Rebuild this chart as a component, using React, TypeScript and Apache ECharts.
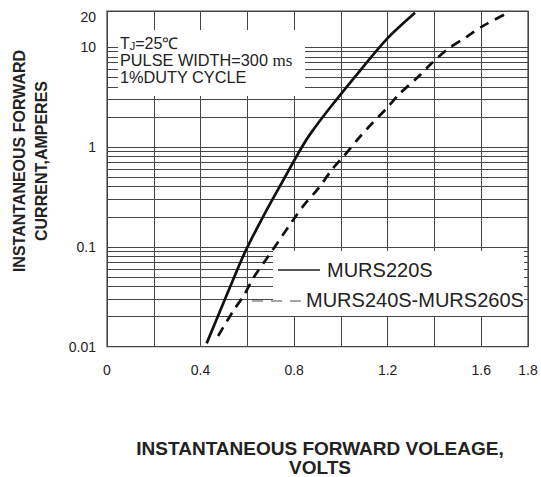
import React, { useEffect, useRef } from 'react';
import * as echarts from 'echarts';

// Forward voltage (V) and forward current (A)
const murs220Voltage = [0.426, 0.526, 0.591, 0.671, 0.754, 0.826, 0.87, 0.955, 1.077, 1.2, 1.317];
const murs220Current = [0.0108, 0.0396, 0.0894, 0.208, 0.467, 0.933, 1.36, 2.5, 5.63, 12.3, 22.1];

const murs240Voltage = [0.475, 0.537, 0.586, 0.629, 0.686, 0.793, 0.842, 0.902, 0.964, 1.013, 1.077, 1.131, 1.195, 1.253, 1.324, 1.388, 1.452, 1.538, 1.612, 1.714];
const murs240Current = [0.0128, 0.0223, 0.0329, 0.0502, 0.0782, 0.1815, 0.262, 0.38, 0.602, 0.812, 1.23, 1.7, 2.43, 3.45, 4.87, 6.89, 9.36, 12.7, 16.5, 22.1];

const seriesNames = ['MURS220S', 'MURS240S-MURS260S'];

// Axis ticks / labels
const xMin = 0;
const xMax = 1.8;
const xInterval = 0.2;
const xTickLabels = [0, 0.4, 0.8, 1.2, 1.6, 1.8];
const yMin = 0.01;
const yMax = 23;
const yTopTickLabel = 20;
const minorGridCurrents = [
  0.02, 0.03, 0.04, 0.05, 0.06, 0.07, 0.08, 0.09,
  0.2, 0.3, 0.4, 0.5, 0.6, 0.7, 0.8, 0.9,
  2, 3, 4, 5, 6, 7, 8, 9,
];

const noteLines = ['TJ=25℃', 'PULSE WIDTH=300 ms', '1%DUTY CYCLE'];
const xAxisName = 'INSTANTANEOUS FORWARD VOLEAGE,\nVOLTS';
const yAxisName = 'INSTANTANEOUS FORWARD\nCURRENT,AMPERES';

const FONT = "'Liberation Sans', Arial, Helvetica, sans-serif";
const GRID_COLOR = '#454545';
const TEXT_COLOR = '#222';

function zip(xs: number[], ys: number[]) {
  return xs.map((x, i) => [x, ys[i]]);
}

export default function App() {
  const ref = useRef<HTMLDivElement>(null);

  useEffect(() => {
    document.body.style.margin = '0';
    if (!ref.current) return;
    const chart = echarts.init(ref.current, undefined, { renderer: 'svg' });

    const option: any = {
      animation: false,
      backgroundColor: '#fff',
      grid: {
        left: 107,
        right: 13,
        top: 11,
        bottom: 130.3,
        show: true,
        borderColor: GRID_COLOR,
        borderWidth: 1.2,
        backgroundColor: 'transparent',
      },
      xAxis: {
        type: 'value',
        min: xMin,
        max: xMax,
        interval: xInterval,
        axisLine: { show: false },
        axisTick: { show: false },
        splitLine: { show: true, lineStyle: { color: GRID_COLOR, width: 1 } },
        axisLabel: {
          margin: 16,
          fontSize: 14,
          color: TEXT_COLOR,
          fontFamily: FONT,
          formatter: (v: number) => {
            const t = xTickLabels.find((l) => Math.abs(l - v) < 1e-6);
            return t === undefined ? '' : String(t);
          },
        },
      },
      yAxis: {
        type: 'log',
        logBase: 10,
        min: yMin,
        max: yMax,
        axisLine: { show: false },
        axisTick: { show: false },
        splitLine: { show: true, lineStyle: { color: GRID_COLOR, width: 1 } },
        axisLabel: {
          margin: 11,
          fontSize: 14,
          color: TEXT_COLOR,
          fontFamily: FONT,
          formatter: (v: number) => (v > yTopTickLabel ? '' : String(v)),
        },
      },
      series: [
        {
          type: 'line',
          name: seriesNames[0],
          data: zip(murs220Voltage, murs220Current),
          symbol: 'none',
          showSymbol: false,
          smooth: 0.3,
          z: 20,
          lineStyle: { color: '#111', width: 2.7 },
          markLine: {
            silent: true,
            symbol: ['none', 'none'],
            label: { show: false },
            lineStyle: { color: GRID_COLOR, width: 1, type: 'solid' },
            emphasis: { disabled: true },
            data: [
              ...minorGridCurrents.map((v) => ({ yAxis: v })),
              {
                yAxis: yTopTickLabel,
                lineStyle: { color: 'rgba(0,0,0,0)', width: 1 },
                label: {
                  show: true,
                  position: 'start',
                  distance: 11,
                  formatter: String(yTopTickLabel),
                  color: TEXT_COLOR,
                  fontSize: 14,
                  fontFamily: FONT,
                },
              },
            ],
          },
        },
        {
          type: 'line',
          name: seriesNames[1],
          data: zip(murs240Voltage, murs240Current),
          symbol: 'none',
          showSymbol: false,
          smooth: 0.3,
          z: 20,
          lineStyle: { color: '#111', width: 2.7, type: [10, 7] },
        },
      ],
      graphic: [
        // note box
        {
          type: 'rect',
          silent: true,
          z: 10,
          shape: { x: 118, y: 30, width: 187, height: 66 },
          style: { fill: '#fff' },
        },
        {
          type: 'text',
          silent: true,
          z: 11,
          x: 120,
          y: 43.5,
          style: {
            text: '{a|T}{s|J}{a|=25℃}',
            align: 'left',
            verticalAlign: 'middle',
            textAlign: 'left',
            textVerticalAlign: 'middle',
            rich: {
              a: { fontSize: 16, fontFamily: FONT, fill: TEXT_COLOR, color: TEXT_COLOR },
              s: { fontSize: 11, fontFamily: FONT, fill: TEXT_COLOR, color: TEXT_COLOR, verticalAlign: 'bottom' },
            },
          },
        },
        {
          type: 'text',
          silent: true,
          z: 11,
          x: 120,
          y: 60,
          style: {
            text: '{a|PULSE WIDTH=300 }{m|ms}',
            align: 'left',
            verticalAlign: 'middle',
            textAlign: 'left',
            textVerticalAlign: 'middle',
            rich: {
              a: { fontSize: 16.3, fontFamily: FONT, fill: TEXT_COLOR, color: TEXT_COLOR },
              m: { fontSize: 17, fontFamily: "'Liberation Serif', 'Times New Roman', serif", fill: TEXT_COLOR, color: TEXT_COLOR },
            },
          },
        },
        {
          type: 'text',
          silent: true,
          z: 11,
          x: 120,
          y: 76.5,
          style: {
            text: noteLines[2],
            fontSize: 16.3,
            fontFamily: FONT,
            fill: TEXT_COLOR,
            align: 'left',
            verticalAlign: 'middle',
            textAlign: 'left',
            textVerticalAlign: 'middle',
          },
        },
        // legend box
        {
          type: 'rect',
          silent: true,
          z: 10,
          shape: { x: 273, y: 251, width: 251, height: 65 },
          style: { fill: '#fff' },
        },
        {
          type: 'line',
          silent: true,
          z: 11,
          shape: { x1: 278, y1: 270, x2: 320, y2: 270 },
          style: { stroke: '#222', lineWidth: 1.5 },
        },
        {
          type: 'text',
          silent: true,
          z: 11,
          x: 327,
          y: 270,
          style: {
            text: seriesNames[0],
            fontSize: 20,
            fontFamily: FONT,
            fill: TEXT_COLOR,
            align: 'left',
            verticalAlign: 'middle',
            textAlign: 'left',
            textVerticalAlign: 'middle',
          },
        },
        {
          type: 'line',
          silent: true,
          z: 11,
          shape: { x1: 252, y1: 301, x2: 305, y2: 301 },
          style: { stroke: '#888', lineWidth: 1.5, lineDash: [11, 8] },
        },
        {
          type: 'text',
          silent: true,
          z: 11,
          x: 306,
          y: 300,
          style: {
            text: seriesNames[1],
            fontSize: 20,
            fontFamily: FONT,
            fill: TEXT_COLOR,
            align: 'left',
            verticalAlign: 'middle',
            textAlign: 'left',
            textVerticalAlign: 'middle',
          },
        },
        // axis names
        {
          type: 'text',
          silent: true,
          z: 11,
          x: 320,
          y: 458,
          style: {
            text: xAxisName,
            fontSize: 19,
            fontWeight: 'bold',
            fontFamily: FONT,
            fill: TEXT_COLOR,
            lineHeight: 19,
            align: 'center',
            verticalAlign: 'middle',
            textAlign: 'center',
            textVerticalAlign: 'middle',
          },
        },
        {
          type: 'text',
          silent: true,
          z: 11,
          x: 30,
          y: 161,
          rotation: Math.PI / 2,
          style: {
            text: yAxisName,
            fontSize: 16,
            fontWeight: 'bold',
            fontFamily: FONT,
            fill: TEXT_COLOR,
            lineHeight: 22,
            align: 'center',
            verticalAlign: 'middle',
            textAlign: 'center',
            textVerticalAlign: 'middle',
          },
        },
      ],
    };

    chart.setOption(option);
    return () => chart.dispose();
  }, []);

  return <div ref={ref} style={{ width: 541, height: 477 }} />;
}
